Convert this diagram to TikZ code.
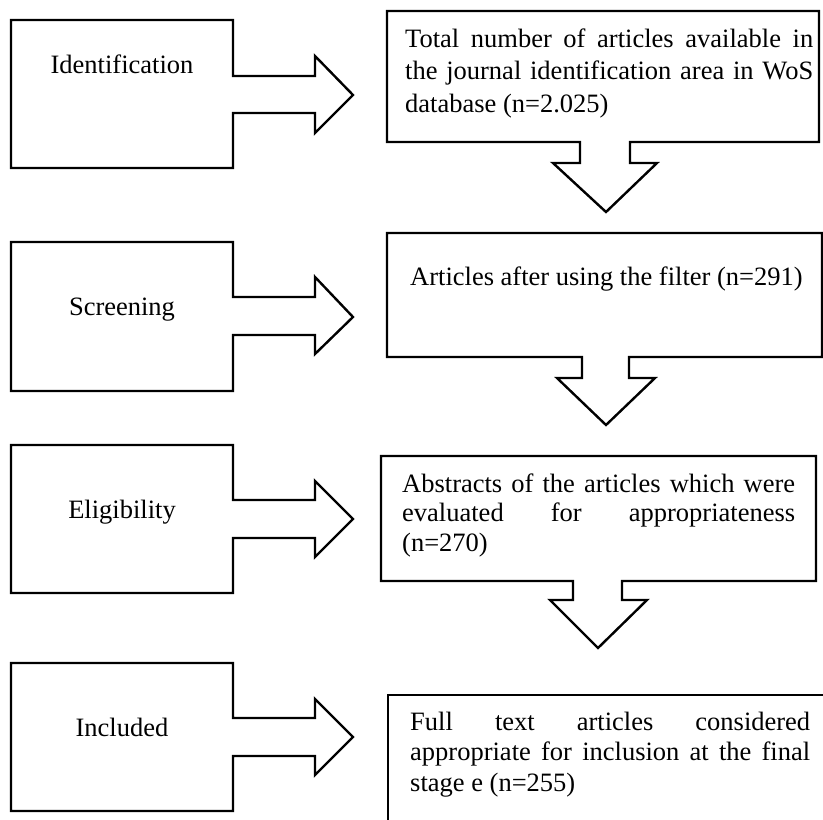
\documentclass[tikz,border=0pt]{standalone}
\usepackage{fontspec}
\setmainfont{Liberation Serif}
\begin{document}
\begin{tikzpicture}[x=1pt,y=-1pt,
  outline/.style={draw=black,line width=2.4pt,line join=miter,fill=white},
  stagelabel/.style={anchor=base,inner sep=0pt,font=\fontsize{26.5}{32}\selectfont},
  boxtext/.style={anchor=base west,inner sep=0pt}]
\useasboundingbox (0,0) rectangle (823,820);
\begin{scope}
\clip (0,0) rectangle (823,820);
% Row 1
\draw[outline] (11,20) -- (233,20) -- (233,76) -- (315,76) -- (315,56) -- (353,95) -- (315,133) -- (315,113) -- (233,113) -- (233,168) -- (11,168) -- cycle;
\draw[outline] (387,11) -- (819,11) -- (819,142) -- (630,142) -- (630,163) -- (657,163) -- (606,212) -- (553,163) -- (580,163) -- (580,142) -- (387,142) -- cycle;
% Row 2
\draw[outline] (11,242) -- (233,242) -- (233,297) -- (315,297) -- (315,277) -- (353,317) -- (315,354) -- (315,335) -- (233,335) -- (233,391) -- (11,391) -- cycle;
\draw[outline] (387,233) -- (822,233) -- (822,357) -- (629,357) -- (629,378) -- (655,378) -- (606,425) -- (557,378) -- (582,378) -- (582,357) -- (387,357) -- cycle;
% Row 3
\draw[outline] (11,445) -- (233,445) -- (233,500) -- (315,500) -- (315,481) -- (353,519) -- (315,557) -- (315,538) -- (233,538) -- (233,593) -- (11,593) -- cycle;
\draw[outline] (381,456) -- (816,456) -- (816,581) -- (622,581) -- (622,600) -- (647,600) -- (598,648) -- (550,600) -- (573,600) -- (573,581) -- (381,581) -- cycle;
% Row 4
\draw[outline] (11,663) -- (233,663) -- (233,718) -- (315,718) -- (315,699) -- (353,737) -- (315,775) -- (315,756) -- (233,756) -- (233,811) -- (11,811) -- cycle;
\draw[outline] (388,695) -- (840,695) -- (840,840) -- (388,840) -- cycle;
\end{scope}
% Stage labels
\node[stagelabel] (ident) at (122,73) {Identification};
\node[stagelabel] (screen) at (122,315) {Screening};
\node[stagelabel] (elig) at (122,518) {Eligibility};
\node[stagelabel] (incl) at (122,736) {Included};
% Box texts
\node[boxtext] (t1) at (405,47) {\fontsize{26.5}{32.5}\selectfont\parbox[t]{408pt}{%
  \makebox[408pt][s]{Total number of articles available in}\\
  \makebox[408pt][s]{the journal identification area in WoS}\\
  database (n=2.025)}};
\node[boxtext] (t2) at (410,285) {\fontsize{26.5}{32}\selectfont Articles after using the filter (n=291)};
\node[boxtext] (t3) at (402,492) {\fontsize{26.5}{29.5}\selectfont\parbox[t]{393pt}{%
  \makebox[393pt][s]{Abstracts of the articles which were}\\
  \makebox[393pt][s]{evaluated for appropriateness}\\
  (n=270)}};
\node[boxtext] (t4) at (410,730) {\fontsize{26.5}{30.5}\selectfont\parbox[t]{400pt}{%
  \makebox[400pt][s]{Full text articles considered}\\
  \makebox[400pt][s]{appropriate for inclusion at the final}\\
  stage e (n=255)}};
\end{tikzpicture}
\end{document}
